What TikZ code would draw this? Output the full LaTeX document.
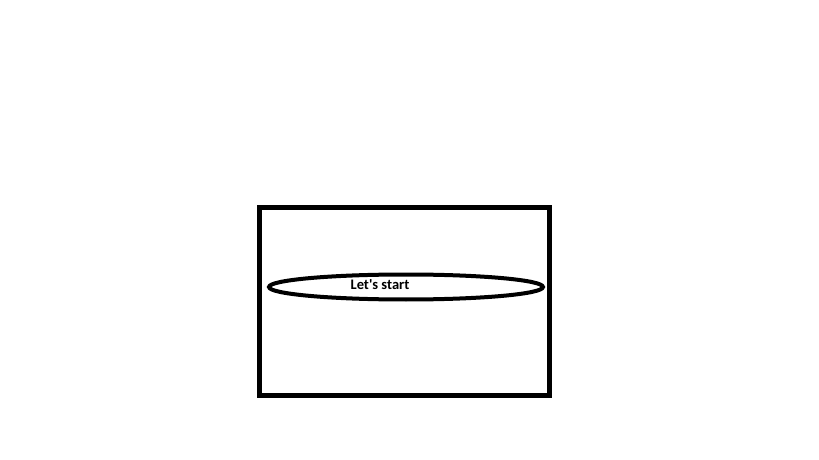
\documentclass[tikz,border=0pt]{standalone}
\usepackage{fontspec}
\setmainfont{Carlito}[Ligatures=TeXOff]
\begin{document}
\begin{tikzpicture}[x=0.75pt, y=-0.75pt]
  \useasboundingbox (0,0) rectangle (819,460);

  % frame
  \draw[line width=3.75pt] (259.5,207.5) rectangle (549.5,395);

  % the ring and its label
  \draw[line width=3pt] (406,287) ellipse [x radius=137, y radius=12.5];
  \node[font=\bfseries\fontsize{10.9pt}{12pt}\selectfont] (start) at (380,284.5) {Let's start};
\end{tikzpicture}
\end{document}
